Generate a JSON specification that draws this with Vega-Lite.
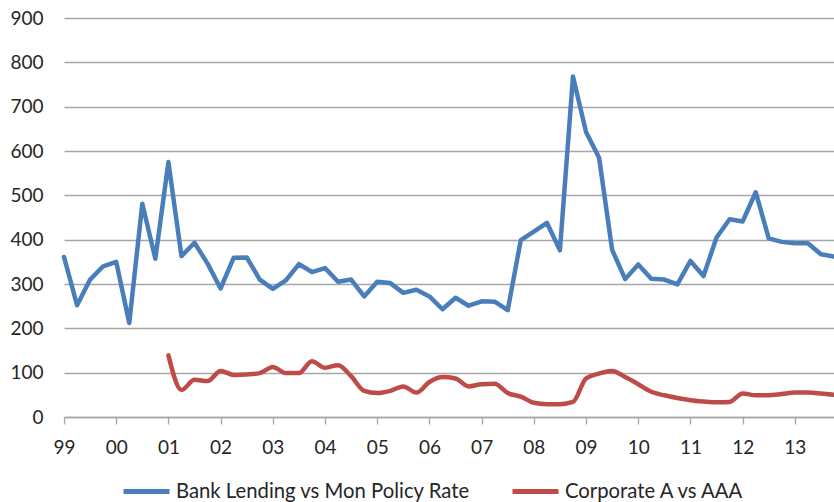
{
  "$schema": "https://vega.github.io/schema/vega-lite/v6.json",
  "autosize": {"type": "none"},
  "padding": {"left": 64, "top": 18, "right": 0, "bottom": 85},
  "width": 770,
  "height": 399,
  "background": "white",
  "config": {"view": {"stroke": null}, "font": "Lato"},
  "datasets": {
    "bank": [
      {"t": 1999.00, "v": 361}, {"t": 1999.25, "v": 252}, {"t": 1999.50, "v": 310}, {"t": 1999.75, "v": 340},
      {"t": 2000.00, "v": 350}, {"t": 2000.25, "v": 212}, {"t": 2000.50, "v": 481}, {"t": 2000.75, "v": 357},
      {"t": 2001.00, "v": 575}, {"t": 2001.25, "v": 363}, {"t": 2001.50, "v": 393}, {"t": 2001.75, "v": 346},
      {"t": 2002.00, "v": 290}, {"t": 2002.25, "v": 359}, {"t": 2002.50, "v": 360}, {"t": 2002.75, "v": 310},
      {"t": 2003.00, "v": 289}, {"t": 2003.25, "v": 308}, {"t": 2003.50, "v": 345}, {"t": 2003.75, "v": 327},
      {"t": 2004.00, "v": 336}, {"t": 2004.25, "v": 305}, {"t": 2004.50, "v": 310}, {"t": 2004.75, "v": 272},
      {"t": 2005.00, "v": 305}, {"t": 2005.25, "v": 302}, {"t": 2005.50, "v": 280}, {"t": 2005.75, "v": 287},
      {"t": 2006.00, "v": 272}, {"t": 2006.25, "v": 243}, {"t": 2006.50, "v": 269}, {"t": 2006.75, "v": 251},
      {"t": 2007.00, "v": 261}, {"t": 2007.25, "v": 260}, {"t": 2007.50, "v": 241}, {"t": 2007.75, "v": 399},
      {"t": 2008.00, "v": 418}, {"t": 2008.25, "v": 438}, {"t": 2008.50, "v": 376}, {"t": 2008.75, "v": 768},
      {"t": 2009.00, "v": 643}, {"t": 2009.25, "v": 585}, {"t": 2009.50, "v": 377}, {"t": 2009.75, "v": 311},
      {"t": 2010.00, "v": 344}, {"t": 2010.25, "v": 312}, {"t": 2010.50, "v": 310}, {"t": 2010.75, "v": 299},
      {"t": 2011.00, "v": 352}, {"t": 2011.25, "v": 318}, {"t": 2011.50, "v": 405}, {"t": 2011.75, "v": 446},
      {"t": 2012.00, "v": 441}, {"t": 2012.25, "v": 507}, {"t": 2012.50, "v": 403}, {"t": 2012.75, "v": 395},
      {"t": 2013.00, "v": 392}, {"t": 2013.25, "v": 392}, {"t": 2013.50, "v": 367}, {"t": 2013.75, "v": 362}
    ],
    "corp": [
      {"t": 2001.00, "v": 139}, {"t": 2001.25, "v": 61}, {"t": 2001.50, "v": 84}, {"t": 2001.75, "v": 81},
      {"t": 2002.00, "v": 104}, {"t": 2002.25, "v": 95}, {"t": 2002.50, "v": 96}, {"t": 2002.75, "v": 99},
      {"t": 2003.00, "v": 113}, {"t": 2003.25, "v": 99}, {"t": 2003.50, "v": 99}, {"t": 2003.75, "v": 126},
      {"t": 2004.00, "v": 111}, {"t": 2004.25, "v": 117}, {"t": 2004.50, "v": 92}, {"t": 2004.75, "v": 59},
      {"t": 2005.00, "v": 54}, {"t": 2005.25, "v": 59}, {"t": 2005.50, "v": 69}, {"t": 2005.75, "v": 55},
      {"t": 2006.00, "v": 79}, {"t": 2006.25, "v": 90}, {"t": 2006.50, "v": 87}, {"t": 2006.75, "v": 69},
      {"t": 2007.00, "v": 74}, {"t": 2007.25, "v": 75}, {"t": 2007.50, "v": 54}, {"t": 2007.75, "v": 46},
      {"t": 2008.00, "v": 32}, {"t": 2008.25, "v": 29}, {"t": 2008.50, "v": 29}, {"t": 2008.75, "v": 34},
      {"t": 2009.00, "v": 87}, {"t": 2009.25, "v": 98}, {"t": 2009.50, "v": 104}, {"t": 2009.75, "v": 90},
      {"t": 2010.00, "v": 74}, {"t": 2010.25, "v": 57}, {"t": 2010.50, "v": 49}, {"t": 2010.75, "v": 43},
      {"t": 2011.00, "v": 38}, {"t": 2011.25, "v": 35}, {"t": 2011.50, "v": 33}, {"t": 2011.75, "v": 34},
      {"t": 2012.00, "v": 53}, {"t": 2012.25, "v": 49}, {"t": 2012.50, "v": 49}, {"t": 2012.75, "v": 52},
      {"t": 2013.00, "v": 55}, {"t": 2013.25, "v": 55}, {"t": 2013.50, "v": 53}, {"t": 2013.75, "v": 50}
    ]
  },
  "encoding": {
    "x": {
      "field": "t",
      "type": "quantitative",
      "scale": {"domain": [1999, 2013.75], "nice": false, "zero": false},
      "axis": {
        "title": null,
        "values": [1999, 2000, 2001, 2002, 2003, 2004, 2005, 2006, 2007, 2008, 2009, 2010, 2011, 2012, 2013],
        "labelExpr": "substring(toString(datum.value), 2)",
        "grid": false,
        "domainColor": "#a6a6a6",
        "domainWidth": 1.3,
        "tickColor": "#a6a6a6",
        "tickWidth": 1.3,
        "tickSize": 7,
        "labelPadding": 14,
        "labelFont": "Lato",
        "labelFontSize": 19,
        "labelColor": "#262626",
        "labelFlush": false,
        "labelOverlap": false
      }
    },
    "y": {
      "field": "v",
      "type": "quantitative",
      "scale": {"domain": [0, 900], "nice": false},
      "axis": {
        "title": null,
        "values": [0, 100, 200, 300, 400, 500, 600, 700, 800, 900],
        "grid": true,
        "gridColor": "#a6a6a6",
        "gridWidth": 1.3,
        "domain": false,
        "ticks": false,
        "labelPadding": 21,
        "labelFont": "Lato",
        "labelFontSize": 19,
        "labelColor": "#262626"
      }
    },
    "color": {
      "field": "series",
      "type": "nominal",
      "scale": {
        "domain": ["Bank Lending vs Mon Policy Rate", "Corporate A vs AAA"],
        "range": ["#4a7ebb", "#be4b48"]
      },
      "legend": {
        "title": null,
        "orient": "none",
        "legendX": 57,
        "legendY": 448,
        "direction": "horizontal",
        "symbolType": "stroke",
        "symbolSize": 2116,
        "symbolStrokeWidth": 5,
        "labelFont": "Lato",
        "labelFontSize": 20.3,
        "labelColor": "#262626",
        "labelLimit": 400,
        "labelOffset": 4,
        "columnPadding": 31,
        "padding": 0
      }
    }
  },
  "layer": [
    {
      "data": {"name": "bank"},
      "transform": [{"calculate": "'Bank Lending vs Mon Policy Rate'", "as": "series"}],
      "mark": {"type": "line", "strokeWidth": 4.5, "strokeCap": "round", "strokeJoin": "round"}
    },
    {
      "data": {"name": "corp"},
      "transform": [{"calculate": "'Corporate A vs AAA'", "as": "series"}],
      "mark": {"type": "line", "strokeWidth": 4.5, "strokeCap": "round", "strokeJoin": "round", "interpolate": "monotone"}
    }
  ]
}
